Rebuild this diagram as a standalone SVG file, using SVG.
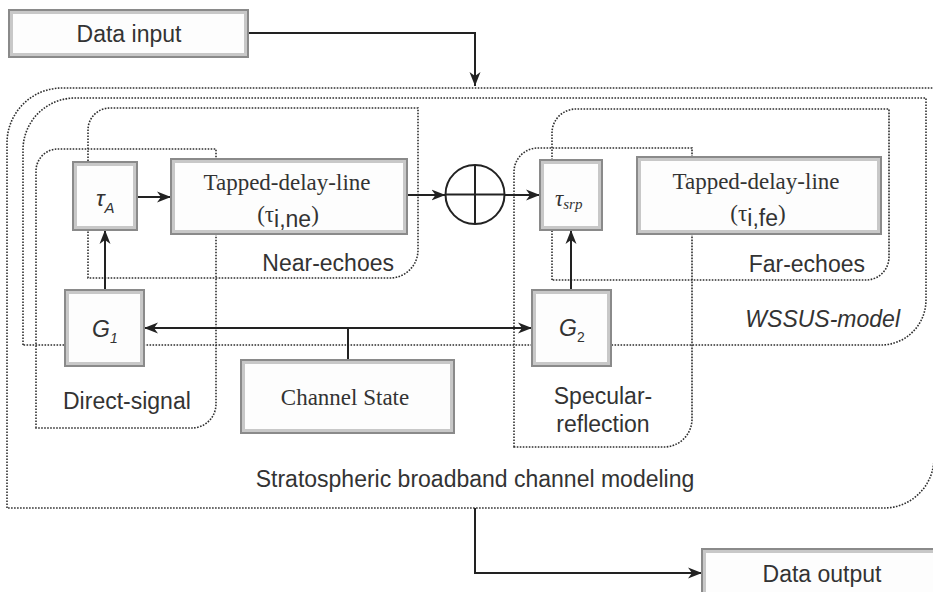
<svg xmlns="http://www.w3.org/2000/svg" width="933" height="592" viewBox="0 0 933 592">
<style>
.bg{fill:#fff}
.box{fill:#fdfdfd;stroke:#8a8a8a;stroke-width:2}
.bev{fill:none;stroke:#c8c8c8;stroke-width:3}
.dot{fill:none;stroke:#2e2e2e;stroke-width:1.6;stroke-dasharray:1.6 1.4}
.con{fill:none;stroke:#222;stroke-width:2}
.sans{font-family:"Liberation Sans",Arial,sans-serif;font-size:23px;fill:#333}
.serif{font-family:"Liberation Serif","Times New Roman",serif;font-size:23px;fill:#333}
.it{font-style:italic}
</style>
<defs>
<marker id="ah" markerUnits="userSpaceOnUse" markerWidth="16" markerHeight="14" refX="14" refY="7" orient="auto-start-reverse" viewBox="0 0 16 14">
<path d="M0,1.5 L14,7 L0,12.5 L4,7 Z" fill="#222"/>
</marker>
</defs>
<rect class="bg" x="0" y="0" width="933" height="592"/>

<g id="regions">
<path id="region-strato" class="dot" d="M7,508 V143 A55,55 0 0 1 62,88 H934 V458 A50,50 0 0 1 884,508 Z"/>
<path id="region-wssus" class="dot" d="M23,345 V150 A52,52 0 0 1 75,98 H926 V300 A45,45 0 0 1 881,345 Z"/>
<path id="region-near" class="dot" d="M88,278 V130 A22,22 0 0 1 110,108 H418 V250 A28,28 0 0 1 390,278 Z"/>
<path id="region-direct" class="dot" d="M36,428 V171 A22,22 0 0 1 58,149 H216 V404 A24,24 0 0 1 192,428 Z"/>
<path id="region-far" class="dot" d="M552,280 V133 A24,24 0 0 1 576,109 H889 V257 A23,23 0 0 1 866,280 Z"/>
<path id="region-spec" class="dot" d="M514,447 V172 A24,24 0 0 1 538,148 H692 V419 A28,28 0 0 1 664,447 Z"/>
</g>

<g id="connectors">
<path class="con" d="M248,33 H475 V86" marker-end="url(#ah)"/>
<path class="con" d="M137,197 H171" marker-end="url(#ah)"/>
<path class="con" d="M407,195 H445.5" marker-end="url(#ah)"/>
<path class="con" d="M504.5,195 H540" marker-end="url(#ah)"/>
<path class="con" d="M105,290 V230" marker-end="url(#ah)"/>
<path class="con" d="M571,290 V230" marker-end="url(#ah)"/>
<path class="con" d="M144,328 H532" marker-start="url(#ah)" marker-end="url(#ah)"/>
<path class="con" d="M348,360 V328"/>
<path class="con" d="M475,508 V573 H702" marker-end="url(#ah)"/>
</g>

<g id="data-input">
<rect class="box" x="9" y="10" width="239" height="47"/>
<rect class="bev" x="11.5" y="12.5" width="234" height="42"/>
<text class="sans" x="129" y="42" text-anchor="middle">Data input</text>
</g>

<g id="tau-a">
<rect class="box" x="73" y="162" width="64" height="68"/>
<rect class="bev" x="75.5" y="164.5" width="59" height="63"/>
<text class="sans it" x="96" y="206" font-size="20">τ<tspan font-size="15" dy="7">A</tspan></text>
</g>

<g id="tdl-near">
<rect class="box" x="171" y="159" width="236" height="75"/>
<rect class="bev" x="173.5" y="161.5" width="231" height="70"/>
<text class="serif" x="287" y="190" text-anchor="middle">Tapped-delay-line</text>
<text class="serif" x="288" y="222" text-anchor="middle">(τ<tspan class="sans" font-size="15" dy="5">i,ne</tspan><tspan dy="-5">)</tspan></text>
</g>

<g id="sum">
<circle cx="475" cy="194.5" r="29.5" fill="#fff" stroke="#222" stroke-width="2"/>
<path d="M445.5,194.5 H504.5 M475,165 V224" stroke="#222" stroke-width="2" fill="none"/>
</g>

<g id="tau-srp">
<rect class="box" x="540" y="160" width="62" height="70"/>
<rect class="bev" x="542.5" y="162.5" width="57" height="65"/>
<text class="serif it" x="555" y="206" font-size="21">τ<tspan font-size="15" dy="3">srp</tspan></text>
</g>

<g id="tdl-far">
<rect class="box" x="637" y="157" width="244" height="77"/>
<rect class="bev" x="639.5" y="159.5" width="239" height="72"/>
<text class="serif" x="756" y="189" text-anchor="middle">Tapped-delay-line</text>
<text class="serif" x="758" y="221" text-anchor="middle">(τ<tspan class="sans" font-size="15" dy="5">i,fe</tspan><tspan dy="-5">)</tspan></text>
</g>

<g id="g1">
<rect class="box" x="65" y="290" width="79" height="76"/>
<rect class="bev" x="67.5" y="292.5" width="74" height="71"/>
<text class="sans it" x="92" y="337" font-size="21">G<tspan font-size="14" dy="6">1</tspan></text>
</g>

<g id="g2">
<rect class="box" x="532" y="290" width="79" height="76"/>
<rect class="bev" x="534.5" y="292.5" width="74" height="71"/>
<text class="sans" x="559" y="336" font-size="21"><tspan class="it">G</tspan><tspan font-size="14" dy="6">2</tspan></text>
</g>

<g id="channel-state">
<rect class="box" x="241" y="360" width="213" height="73"/>
<rect class="bev" x="243.5" y="362.5" width="208" height="68"/>
<text class="serif" x="345" y="405" text-anchor="middle">Channel State</text>
</g>

<g id="data-output">
<rect class="box" x="702" y="549" width="240" height="50"/>
<rect class="bev" x="704.5" y="551.5" width="235" height="45"/>
<text class="sans" x="822" y="582" text-anchor="middle">Data output</text>
</g>

<g id="labels">
<text class="sans" x="394" y="271" text-anchor="end">Near-echoes</text>
<text class="sans" x="865" y="272" text-anchor="end">Far-echoes</text>
<text class="sans it" x="900" y="327" text-anchor="end">WSSUS-model</text>
<text class="sans" x="63" y="409">Direct-signal</text>
<text class="sans" x="603" y="404" text-anchor="middle">Specular-</text>
<text class="sans" x="603" y="432" text-anchor="middle">reflection</text>
<text class="sans" x="475" y="487" text-anchor="middle">Stratospheric broadband channel modeling</text>
</g>
</svg>
